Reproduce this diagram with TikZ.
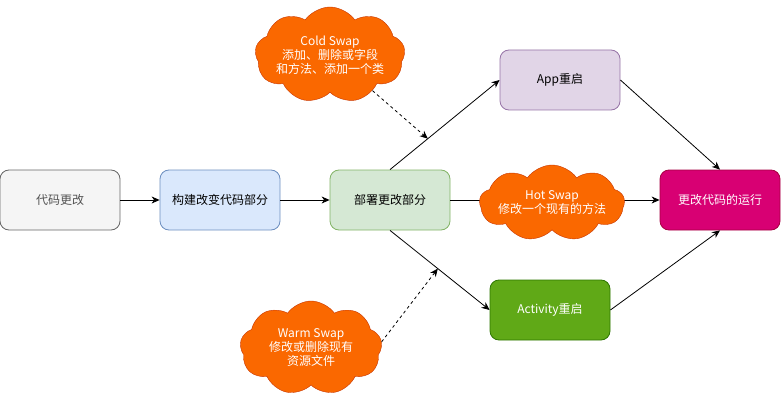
\documentclass[tikz,border=0pt]{standalone}
\usepackage{fontspec}
\setmainfont{Noto Sans CJK SC}
\usetikzlibrary{shapes.symbols,arrows.meta}
\definecolor{grayfill}{HTML}{F5F5F5}\definecolor{grayline}{HTML}{666666}
\definecolor{bluefill}{HTML}{DAE8FC}\definecolor{blueline}{HTML}{6C8EBF}
\definecolor{greenfill}{HTML}{D5E8D4}\definecolor{greenline}{HTML}{82B366}
\definecolor{purplefill}{HTML}{E1D5E7}\definecolor{purpleline}{HTML}{9673A6}
\definecolor{actfill}{HTML}{60A917}\definecolor{actline}{HTML}{2D7600}
\definecolor{runfill}{HTML}{D80073}\definecolor{runline}{HTML}{A50040}
\definecolor{swapfill}{HTML}{FA6800}\definecolor{swapline}{HTML}{C73500}

\begin{document}
\begin{tikzpicture}[x=1pt,y=-1pt,>={Stealth[length=8pt,width=7pt,inset=2.5pt]},
    box/.style={rectangle, draw, line width=0.8pt, rounded corners=9pt,
    minimum width=120pt, minimum height=60pt, font=\fontsize{12}{14}\selectfont},
    puff/.style={cloud, cloud puffs=9, cloud puff arc=110, cloud ignores aspect,
    draw=swapline, fill=swapfill, inner sep=0pt},
    puff text/.style={text=white, align=center, font=\fontsize{12}{14}\selectfont},
    link/.style={->, line width=0.8pt},
    hint/.style={->, dashed, line width=0.8pt}]
    \useasboundingbox (0,0) rectangle (781,401);
    % boxes
    \node[box, fill=grayfill, draw=grayline, text=grayline!80!black] (code) at (60,200) {代码更改};
    \node[box, fill=bluefill, draw=blueline] (build) at (220,200) {构建改变代码部分};
    \node[box, fill=greenfill, draw=greenline] (deploy) at (390,200) {部署更改部分};
    \node[box, fill=purplefill, draw=purpleline] (app) at (560,80) {App重启};
    \node[box, fill=actfill, draw=actline, text=white] (act) at (550,310) {Activity重启};
    \node[box, fill=runfill, draw=runline, text=white] (run) at (720,200) {更改代码的运行};
    % edges
    \draw[link] (code) -- (build);
    \draw[link] (build) -- (deploy);
    \draw[link] (deploy.north) -- (app.west) coordinate[pos=0.345] (coldhit);
    \draw[link] (deploy.south) -- (act.west) coordinate[pos=0.48] (warmhit);
    \draw[link] (deploy) -- (run);
    \draw[link] (app.east) -- (run.north);
    \draw[link] (act.east) -- (run.south);
    % clouds
    \node[puff, minimum width=150pt, minimum height=96pt,
        label={[puff text]center:Cold Swap\\添加、删除或字段\\和方法、添加一个类}] (cold) at (330,55) {};
    \node[puff, minimum width=145pt, minimum height=76pt,
        label={[puff text]center:Hot Swap\\修改一个现有的方法}] (hot) at (552,203) {};
    \node[puff, minimum width=142pt, minimum height=94pt,
        label={[puff text]center:Warm Swap\\修改或删除现有\\资源文件}] (warm) at (311,348) {};
    \draw[hint] (cold.-40) -- (coldhit);
    \draw[hint] (warm.5) -- (warmhit);
\end{tikzpicture}
\end{document}
